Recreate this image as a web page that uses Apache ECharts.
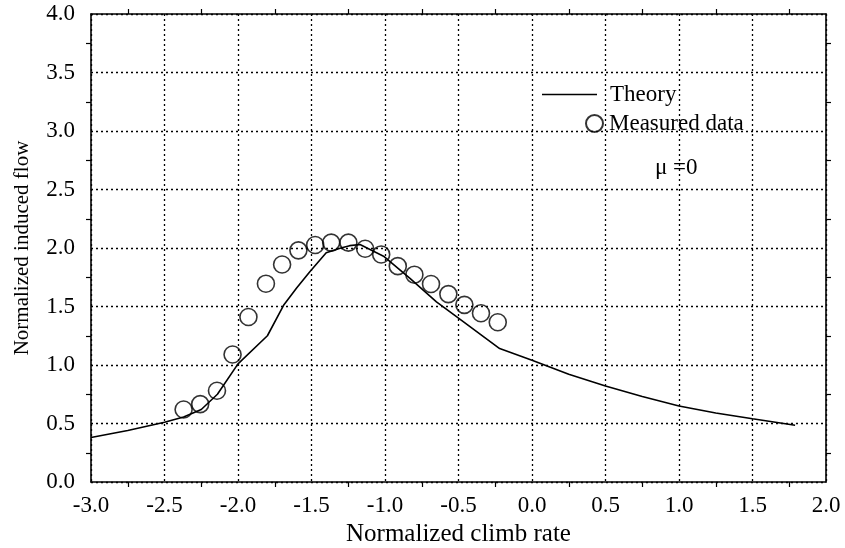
<!DOCTYPE html>
<html><head><meta charset="utf-8">
<script src="https://cdn.jsdelivr.net/npm/echarts@6/dist/echarts.min.js"></script>
<style>html,body{margin:0;padding:0;background:#fff}#c{width:845px;height:548px}</style>
</head><body><div id="c"></div>
<script>
const theoryX = [-3.0,-2.75,-2.5,-2.37,-2.25,-2.14,-2.0,-1.8,-1.69,-1.6,-1.51,-1.4,-1.3,-1.24,-1.17,-1.01,-0.83,-0.65,-0.5,-0.22,0.0,0.25,0.5,0.75,1.0,1.25,1.5,1.79];
const theoryY = [0.38,0.44,0.51,0.555,0.62,0.75,1.01,1.25,1.51,1.66,1.80,1.96,2.00,2.02,2.03,1.93,1.74,1.54,1.40,1.14,1.04,0.92,0.82,0.73,0.65,0.59,0.54,0.485];
const measX = [-2.37,-2.257,-2.143,-2.037,-1.929,-1.81,-1.70,-1.589,-1.475,-1.366,-1.249,-1.135,-1.026,-0.913,-0.80,-0.687,-0.569,-0.46,-0.347,-0.233];
const measY = [0.62,0.666,0.78,1.09,1.41,1.695,1.859,1.98,2.026,2.046,2.046,1.994,1.945,1.845,1.772,1.692,1.606,1.514,1.442,1.365];
const xTitle = 'Normalized climb rate';
const yTitle = 'Normalized induced flow';
const seriesNames = ['Theory','Measured data'];
const noteText = 'μ =0';

const F = 'Liberation Serif';
const chart = echarts.init(document.getElementById('c'), null, {renderer:'canvas'});
const axisCommon = {
  axisLine:{show:true,onZero:false,lineStyle:{color:'#000',width:1.6}},
  axisTick:{show:false},
  minorTick:{show:true,splitNumber:2,length:5,lineStyle:{color:'#000',width:1.2}},
  splitLine:{show:true,lineStyle:{color:'#000',width:1.3,type:[2,3]}},
  minorSplitLine:{show:false}
};
chart.setOption({
  animation:false,
  backgroundColor:'#fff',
  grid:{left:91,right:19,top:14,bottom:66,containLabel:false,outerBoundsMode:'none'},
  legend:[
    {data:[{name:seriesNames[0],icon:'rect'}],left:537,top:78,itemWidth:55,itemHeight:1.6,
     itemStyle:{color:'#000'},
     textStyle:{fontFamily:F,fontSize:23,color:'#000',padding:[0,0,0,8]}},
    {data:[{name:seriesNames[1],icon:'circle'}],left:580,top:107,itemWidth:17,itemHeight:17,
     textStyle:{fontFamily:F,fontSize:23,color:'#000',padding:[0,0,0,1]}}
  ],
  xAxis:[
    Object.assign({type:'value',min:-3,max:2,interval:0.5,position:'bottom',
      name:xTitle,nameLocation:'middle',nameGap:30,
      nameTextStyle:{fontFamily:F,fontSize:25,color:'#000'},
      axisLabel:{fontFamily:F,fontSize:23,color:'#000',margin:12,formatter:v=>v.toFixed(1)}},axisCommon),
    Object.assign({type:'value',min:-3,max:2,interval:0.5,position:'top',
      axisLabel:{show:false}},axisCommon,{splitLine:{show:false}})
  ],
  yAxis:[
    Object.assign({type:'value',min:0,max:4,interval:0.5,position:'left',
      name:yTitle,nameLocation:'middle',nameGap:58,
      nameTextStyle:{fontFamily:F,fontSize:21,color:'#000'},
      axisLabel:{fontFamily:F,fontSize:23,color:'#000',margin:16,formatter:v=>v.toFixed(1)}},axisCommon),
    Object.assign({type:'value',min:0,max:4,interval:0.5,position:'right',
      axisLabel:{show:false}},axisCommon,{splitLine:{show:false}})
  ],
  graphic:[{type:'text',left:655,top:156,style:{text:noteText,fontFamily:F,fontSize:23,fill:'#000'}}],
  series:[
    {name:seriesNames[0],type:'line',showSymbol:false,symbol:'none',
     data:theoryX.map((x,i)=>[x,theoryY[i]]),
     lineStyle:{color:'#000',width:1.6},itemStyle:{color:'#000'}},
    {name:seriesNames[1],type:'scatter',symbol:'circle',symbolSize:17,
     data:measX.map((x,i)=>[x,measY[i]]),
     itemStyle:{color:'rgba(255,255,255,0)',borderColor:'#000',borderWidth:1.6}}
  ]
});
</script></body></html>
